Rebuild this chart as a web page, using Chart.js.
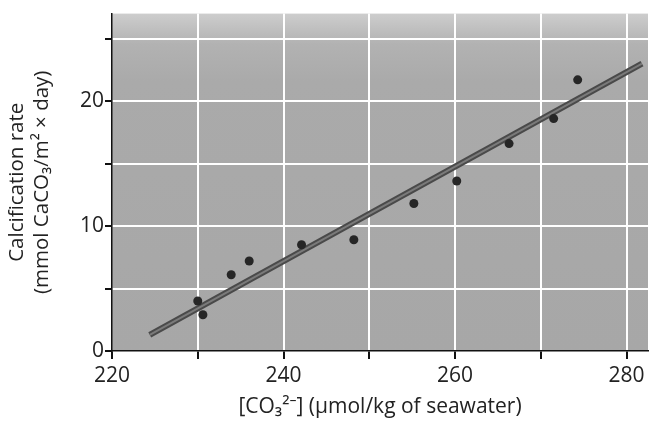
<!DOCTYPE html>
<html>
<head>
<meta charset="utf-8">
<script src="https://cdn.jsdelivr.net/npm/chart.js@4.4.1/dist/chart.umd.min.js"></script>
<style>
  html, body { margin: 0; padding: 0; background: #fff; }
  #wrap { width: 654px; height: 423px; }
</style>
</head>
<body>
<div id="wrap"><canvas id="myChart" width="654" height="423"></canvas></div>
<script>
// measured points: carbonate ion concentration vs calcification rate
var co3 = [230.0, 230.6, 233.9, 236.0, 242.1, 248.2, 255.2, 260.2, 266.3, 271.5, 274.3];
var calcRate = [4.0, 2.9, 6.1, 7.2, 8.5, 8.9, 11.8, 13.6, 16.6, 18.6, 21.7];

// fitted line end points
var fitX = [224.4, 281.8];
var fitY = [1.3, 23.0];

var xLabels = [220, 240, 260, 280];
var yLabels = [0, 10, 20];

var FONT = "'Open Sans', 'Noto Sans', sans-serif";

var plotBg = {
  id: "plotBg",
  beforeDraw: function (chart) {
    var a = chart.chartArea;
    var ctx = chart.ctx;
    var g = ctx.createLinearGradient(0, a.top, 0, a.bottom);
    g.addColorStop(0, "#cdcdcd");
    g.addColorStop(0.09, "#b2b2b2");
    g.addColorStop(0.2, "#aaaaaa");
    g.addColorStop(1, "#a7a7a7");
    ctx.save();
    ctx.fillStyle = g;
    ctx.fillRect(a.left, a.top, a.right - a.left, a.bottom - a.top);
    ctx.restore();
  },
};

var ctx = document.getElementById("myChart").getContext("2d");
var myChart = new Chart(ctx, {
  type: "scatter",
  data: {
    datasets: [
      {
        data: co3.map(function (x, i) { return { x: x, y: calcRate[i] }; }),
        backgroundColor: "#262626",
        borderWidth: 0,
        pointRadius: 4.5,
        order: 0,
      },
      {
        type: "line",
        data: fitX.map(function (x, i) { return { x: x, y: fitY[i] }; }),
        borderColor: "#7a7a7a",
        borderWidth: 2,
        pointRadius: 0,
        order: 1,
      },
      {
        type: "line",
        data: fitX.map(function (x, i) { return { x: x, y: fitY[i] }; }),
        borderColor: "#4a4a4a",
        borderWidth: 6,
        pointRadius: 0,
        order: 2,
      },
    ],
  },
  options: {
    responsive: false,
    animation: false,
    layout: { padding: { left: 4, top: 12, right: 6, bottom: 3 } },
    plugins: { legend: { display: false }, tooltip: { enabled: false } },
    scales: {
      x: {
        type: "linear",
        min: 220,
        max: 282.5,
        border: { color: "#111", width: 1.5 },
        grid: {
          color: function (c) { return c.tick && c.tick.value === 220 ? "rgba(0,0,0,0)" : "#ffffff"; },
          lineWidth: 2,
          tickColor: "#111",
          tickLength: 8,
        },
        ticks: {
          stepSize: 10,
          includeBounds: false,
          padding: 4,
          color: "#222",
          font: { family: FONT, size: 21 },
          maxRotation: 0,
          callback: function (v) { return xLabels.indexOf(v) >= 0 ? String(v) : ""; },
        },
        title: {
          display: true,
          text: "[CO\u2083\u00B2\u207B] (\u03BCmol/kg of seawater)",
          color: "#222",
          font: { family: FONT, size: 21 },
          padding: { top: 0, bottom: 0 },
        },
        afterFit: function (s) { s.height = 423 - 351 - 3; },
      },
      y: {
        type: "linear",
        min: 0,
        max: 27,
        border: { color: "#111", width: 1.5 },
        grid: {
          color: function (c) { return c.tick && c.tick.value === 0 ? "rgba(0,0,0,0)" : "#ffffff"; },
          lineWidth: 2,
          tickColor: "#111",
          tickLength: 7,
        },
        ticks: {
          stepSize: 5,
          includeBounds: false,
          padding: 1,
          color: "#222",
          font: { family: FONT, size: 21 },
          callback: function (v) { return yLabels.indexOf(v) >= 0 ? String(v) : ""; },
        },
        title: {
          display: true,
          text: ["Calcification rate", "(mmol CaCO\u2083/m\u00B2 \u00D7 day)"],
          color: "#222",
          font: { family: FONT, size: 20.5, lineHeight: 1.25 },
          padding: { top: 0, bottom: 10 },
        },
        afterFit: function (s) { s.width = 112 - 4; },
      },
    },
  },
  plugins: [plotBg],
});
</script>
</body>
</html>
